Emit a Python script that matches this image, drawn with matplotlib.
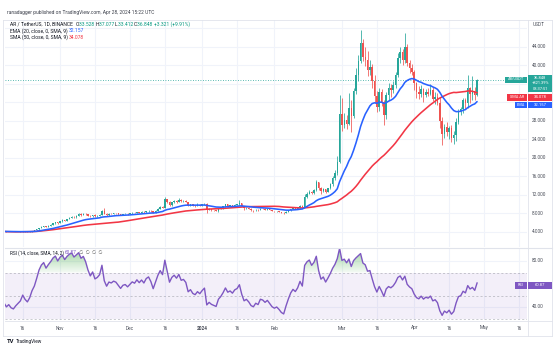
import numpy as np
import pandas as pd
import matplotlib
matplotlib.use("Agg")
import matplotlib.pyplot as plt
from matplotlib.patches import Rectangle
from matplotlib.path import Path
from matplotlib.colors import LinearSegmentedColormap
from matplotlib.transforms import blended_transform_factory

plt.rcParams['font.family'] = ['Roboto', 'DejaVu Sans']

# ---------------- data ----------------
start_date = "2023-10-08"
end_date = "2024-04-28"
first_open = 4.08

close = [
    # Oct
    4.12, 4.02, 4.06, 3.98, 3.95, 4.00, 4.04, 4.08, 4.18, 4.10, 4.05, 4.12, 4.25, 4.35, 4.55, 4.85, 5.10, 5.25, 5.15, 5.35, 5.55, 5.85, 6.05, 5.95,
    # Nov
    6.30, 6.55, 6.45, 6.80, 7.10, 7.30, 7.20, 7.50, 7.85, 7.70, 7.95, 7.80, 7.55, 7.35, 7.65, 7.40, 7.50, 7.70, 8.60, 7.90, 7.60, 7.95, 7.90, 8.05, 8.00, 7.85, 7.70, 7.90, 7.95, 7.85,
    # Dec
    8.00, 8.15, 8.10, 8.30, 8.20, 8.35, 8.25, 8.50, 8.60, 8.45, 8.20, 8.55, 9.00, 9.40, 9.25, 11.10, 10.50, 9.80, 10.40, 10.70, 10.50, 11.00, 10.60, 10.70, 10.50, 9.80, 10.00, 9.70, 9.60, 9.85, 9.70,
    # Jan
    9.95, 10.15, 8.75, 8.95, 8.75, 8.65, 8.55, 9.05, 9.25, 9.55, 9.95, 9.65, 9.75, 9.60, 9.85, 9.95, 10.25, 9.65, 9.15, 9.25, 9.05, 8.75, 8.65, 8.85, 8.75, 9.05, 9.00, 8.85, 8.95, 8.75, 8.55,
    # Feb
    8.45, 8.50, 8.35, 8.15, 8.05, 8.35, 8.65, 8.95, 9.15, 9.05, 9.25, 9.65, 9.45, 11.60, 12.30, 12.70, 12.40, 13.00, 14.70, 13.60, 12.80, 13.20, 12.70, 13.40, 14.30, 15.60, 16.80, 19.20, 29.50,
    # Mar
    27.00, 28.20, 27.40, 30.80, 29.00, 34.50, 37.80, 41.00, 44.80, 41.80, 41.20, 39.00, 39.60, 36.60, 33.40, 30.90, 34.20, 32.00, 29.20, 33.60, 35.20, 34.60, 35.80, 38.00, 41.60, 42.80, 41.20, 44.00, 40.60, 39.40, 38.60,
    # Apr
    36.10, 34.30, 33.70, 34.90, 33.50, 34.30, 33.90, 34.70, 32.70, 33.10, 31.90, 28.00, 25.20, 26.60, 25.60, 26.40, 24.20, 25.00, 27.80, 30.20, 30.60, 32.40, 31.80, 35.00, 33.80, 34.50, 33.527, 36.848,
]

high = [
    4.18, 4.15, 4.10, 4.09, 4.01, 4.04, 4.07, 4.12, 4.26, 4.21, 4.14, 4.16, 4.30, 4.40, 4.62, 4.95, 5.25, 5.36, 5.38, 5.45, 5.64, 5.95, 6.20, 6.15,
    6.40, 6.72, 6.64, 6.88, 7.25, 7.42, 7.45, 7.62, 8.10, 8.00, 8.12, 8.05, 7.90, 7.62, 7.75, 7.80, 7.60, 7.78, 8.85, 9.20, 8.05, 8.05, 8.08, 8.20, 8.12, 8.08, 7.92, 7.98, 8.06, 8.00,
    8.10, 8.22, 8.25, 8.42, 8.40, 8.48, 8.45, 8.60, 8.72, 8.66, 8.50, 8.64, 9.10, 9.55, 9.55, 11.50, 11.20, 10.60, 10.55, 10.90, 10.85, 11.35, 11.10, 10.85, 10.80, 10.55, 10.15, 10.10, 9.85, 10.30, 9.95,
    10.05, 10.35, 10.25, 9.10, 9.00, 8.85, 8.75, 9.15, 9.45, 9.70, 10.10, 10.05, 9.85, 9.82, 9.95, 10.10, 10.80, 10.35, 9.70, 9.35, 9.30, 9.10, 8.85, 8.95, 8.92, 9.15, 9.12, 9.08, 9.05, 9.05, 8.85,
    8.60, 8.62, 8.55, 8.40, 8.25, 8.45, 8.75, 9.05, 9.35, 9.22, 9.38, 9.80, 9.75, 12.10, 12.70, 13.10, 12.90, 13.30, 15.30, 14.90, 13.70, 13.60, 13.35, 13.60, 14.60, 16.00, 17.40, 20.40, 33.60,
    33.00, 29.80, 29.20, 34.00, 32.60, 35.20, 39.40, 42.20, 47.60, 45.60, 44.00, 43.00, 41.20, 40.20, 37.80, 34.40, 35.00, 34.80, 32.40, 34.20, 36.20, 36.00, 36.60, 38.60, 42.60, 44.00, 43.60, 46.90, 44.60, 41.20, 40.20,
    39.00, 36.30, 35.50, 35.70, 35.10, 34.90, 35.10, 35.90, 35.30, 34.20, 34.00, 33.20, 28.80, 27.40, 27.80, 26.80, 27.00, 25.80, 28.60, 30.60, 31.00, 32.90, 33.00, 37.80, 35.40, 37.60, 35.40, 37.077,
]

low = [
    4.04, 3.97, 3.98, 3.92, 3.89, 3.93, 3.98, 4.01, 4.05, 4.05, 4.00, 4.01, 4.10, 4.21, 4.31, 4.50, 4.78, 5.02, 5.05, 5.10, 5.30, 5.50, 5.78, 5.82,
    5.88, 6.22, 6.30, 6.40, 6.72, 7.00, 7.05, 7.12, 7.40, 7.55, 7.62, 7.70, 7.42, 7.20, 7.28, 7.30, 7.30, 7.44, 7.65, 7.80, 7.40, 7.52, 7.80, 7.85, 7.92, 7.75, 7.58, 7.62, 7.82, 7.76,
    7.80, 7.95, 8.02, 8.04, 8.08, 8.14, 8.15, 8.20, 8.42, 8.36, 8.02, 8.15, 8.45, 8.92, 9.10, 9.20, 10.30, 9.55, 9.70, 10.30, 10.35, 10.42, 10.45, 10.50, 10.38, 9.60, 9.70, 9.58, 9.42, 9.55, 9.60,
    9.60, 9.90, 8.10, 8.65, 8.55, 8.55, 8.45, 8.40, 8.90, 9.00, 9.48, 9.45, 9.55, 9.50, 9.55, 9.75, 9.90, 9.55, 8.85, 9.05, 8.98, 8.60, 8.40, 8.58, 8.62, 8.70, 8.92, 8.78, 8.75, 8.68, 8.45,
    8.30, 8.38, 8.28, 8.05, 7.90, 8.00, 8.28, 8.58, 8.90, 8.95, 9.00, 9.18, 9.25, 9.40, 11.40, 12.10, 12.10, 12.30, 12.90, 13.00, 12.30, 12.60, 12.40, 12.60, 13.30, 14.00, 15.20, 16.30, 19.00,
    25.80, 26.40, 26.20, 27.00, 25.60, 28.60, 33.80, 36.60, 40.40, 41.00, 39.80, 37.60, 38.00, 35.20, 31.80, 30.00, 30.20, 31.20, 27.00, 28.40, 32.60, 33.20, 34.00, 35.20, 37.40, 40.60, 40.00, 40.60, 39.80, 38.40, 37.80,
    34.70, 32.90, 32.70, 33.10, 32.10, 33.10, 33.30, 33.50, 32.20, 31.60, 31.40, 26.40, 22.80, 24.20, 24.80, 24.00, 23.40, 22.90, 23.60, 27.40, 29.20, 29.80, 30.60, 30.80, 31.80, 32.60, 32.40, 33.412,
]

ema_len = 20
sma_len = 50
rsi_len = 14
rsi_seed_gain = 0.040
rsi_seed_loss = 0.056

price_tick_values = [4, 8, 12, 16, 20, 24, 28, 40, 44]
price_grid_values = [4, 8, 12, 16, 20, 24, 28, 32, 36, 40, 44, 48]
rsi_tick_values = [80, 40]
time_tick_dates = ["2023-10-16", "2023-11-01", "2023-11-16", "2023-12-01", "2023-12-16",
                   "2024-01-01", "2024-01-16", "2024-02-01", "2024-03-01", "2024-03-16",
                   "2024-04-01", "2024-04-16", "2024-05-01", "2024-05-16"]
time_tick_labels = ["16", "Nov", "16", "Dec", "16", "2024", "16", "Feb", "Mar", "16",
                    "Apr", "16", "May", "16"]

header_title = "ranadagger published on TradingView.com, Apr 28, 2024 15:22 UTC"
symbol_text = "AR / TetherUS, 1D, BINANCE"
ohlc_text = [("O", "33.528"), ("H", "37.077"), ("L", "33.412"), ("C", "36.848")]
change_text = "+3.321 (+9.91%)"

# ---------------- derived series ----------------
dates = pd.date_range(start_date, end_date, freq="D")
base = pd.Timestamp("2023-10-01")
xd = np.array((dates - base).days, dtype=float)
c = np.array(close, dtype=float)
h = np.array(high, dtype=float)
l = np.array(low, dtype=float)
o = np.concatenate([[first_open], c[:-1]])

ema = pd.Series(c).ewm(span=ema_len, adjust=False).mean().values
sma = pd.Series(c).rolling(sma_len, min_periods=1).mean().values

rsi = np.zeros(len(c))
ag, al = rsi_seed_gain, rsi_seed_loss
prev = first_open
for i, v in enumerate(c):
    d = v - prev
    prev = v
    ag = (ag * (rsi_len - 1) + max(d, 0)) / rsi_len
    al = (al * (rsi_len - 1) + max(-d, 0)) / rsi_len
    rsi[i] = 100 - 100 / (1 + ag / al)

# ---------------- layout ----------------
W, H = 554, 349
fig = plt.figure(figsize=(W / 100, H / 100), dpi=100)
fig.patch.set_facecolor("white")

def fx(x):
    return x / W

def fy(y):
    return 1 - y / H

X0, X1 = 5, 527
PY0, PY1 = 20, 247
RY0, RY1 = 248, 320

def x_of_day(px):
    return 31 + (px - 60) / 2.33

xlim = (x_of_day(X0), x_of_day(X1))

def p_of_y(py):
    return (250.5 - py) / 4.63

def r_of_y(py):
    return 80 - (py - 261) / 1.15

GREEN = "#26a69a"
RED = "#ef5350"
GRID = "#f0f3fa"
TXT = "#131722"
AXTXT = "#4a4e59"

ax = fig.add_axes([fx(X0), fy(PY1), (X1 - X0) / W, (PY1 - PY0) / H])
ax.set_xlim(*xlim)
ax.set_ylim(p_of_y(PY1), p_of_y(PY0))
axr = fig.add_axes([fx(X0), fy(RY1), (X1 - X0) / W, (RY1 - RY0) / H])
axr.set_xlim(*xlim)
axr.set_ylim(r_of_y(RY1), r_of_y(RY0))

tick_x = np.array((pd.to_datetime(time_tick_dates) - base).days, dtype=float)

for a in (ax, axr):
    for s in a.spines.values():
        s.set_visible(False)
    a.set_xticks([])
    a.set_yticks([])
    for t in tick_x:
        a.axvline(t, color=GRID, lw=0.8, zorder=0)

for v in price_grid_values:
    ax.axhline(v, color=GRID, lw=0.8, zorder=0)
for v in rsi_tick_values:
    axr.axhline(v, color=GRID, lw=0.8, zorder=0)

# candles
cols = np.where(c >= o, GREEN, RED)
ax.vlines(xd, l, h, colors=cols, lw=0.55, zorder=2)
ax.bar(xd, np.maximum(np.abs(c - o), 0.06), bottom=np.minimum(o, c), width=0.62,
       color=cols, linewidth=0, zorder=3)

ax.plot(xd, sma, color="#f23645", lw=1.15, zorder=4, solid_capstyle="round")
ax.plot(xd, ema, color="#2962ff", lw=1.15, zorder=5, solid_capstyle="round")
ax.axhline(c[-1], color=GREEN, lw=0.6, ls=(0, (1, 2)), zorder=1)

# RSI pane
axr.axhspan(30, 70, color="#7e57c2", alpha=0.09, lw=0, zorder=0)
for v in (70, 50, 30):
    axr.axhline(v, color="#9598a1", lw=0.5, ls=(0, (3, 3)), alpha=0.7, zorder=1)
ob = axr.fill_between(xd, 70, rsi, where=rsi > 70, interpolate=True, facecolor="none", lw=0)
paths = ob.get_paths()
if paths:
    grad = np.linspace(0, 1, 256).reshape(-1, 1)
    cmap = LinearSegmentedColormap.from_list("g", [(0.30, 0.69, 0.31, 0.05), (0.30, 0.69, 0.31, 0.75)])
    im = axr.imshow(grad, extent=[xlim[0], xlim[1], 70, 100], origin="lower", aspect="auto",
                    cmap=cmap, zorder=1, interpolation="bilinear")
    im.set_clip_path(Path.make_compound_path(*paths), transform=axr.transData)
axr.set_xlim(*xlim)
axr.set_ylim(r_of_y(RY1), r_of_y(RY0))
axr.plot(xd, rsi, color="#7e57c2", lw=1.0, zorder=3)

# frame lines
LINE = "#e0e3eb"
fig.add_artist(plt.Line2D([fx(3), fx(552)], [fy(19.5), fy(19.5)], color=LINE, lw=0.6))
fig.add_artist(plt.Line2D([fx(3), fx(552)], [fy(336), fy(336)], color=LINE, lw=0.6))
fig.add_artist(plt.Line2D([fx(3), fx(3)], [fy(19.5), fy(336)], color=LINE, lw=0.6))
fig.add_artist(plt.Line2D([fx(552), fx(552)], [fy(19.5), fy(336)], color=LINE, lw=0.6))
fig.add_artist(plt.Line2D([fx(X0), fx(552)], [fy(247.5), fy(247.5)], color=LINE, lw=0.8))
fig.add_artist(plt.Line2D([fx(X0), fx(552)], [fy(320.5), fy(320.5)], color=LINE, lw=0.6))
fig.add_artist(plt.Line2D([fx(527.5), fx(527.5)], [fy(19.5), fy(336)], color=LINE, lw=0.6))

# price scale labels
FS_AX = 3.4
for v in price_tick_values:
    fig.text(fx(532), fy(250.5 - 4.63 * v), f"{v:.3f}", fontsize=FS_AX, color=AXTXT,
             ha="left", va="center")
fig.text(fx(533), fy(25), "USDT", fontsize=FS_AX, color=AXTXT, ha="left", va="center")
for v in rsi_tick_values:
    fig.text(fx(532), fy(261 - (v - 80) * 1.15), f"{v:.2f}", fontsize=FS_AX, color=AXTXT,
             ha="left", va="center")

# time labels
trans = blended_transform_factory(axr.transData, fig.transFigure)
for t, lab in zip(tick_x, time_tick_labels):
    if xlim[0] <= t <= xlim[1]:
        fig.text(t, fy(328), lab, transform=trans, fontsize=FS_AX, color=AXTXT,
                 ha="center", va="center", fontweight="bold" if lab == "2024" else "normal")

# header texts
renderer = fig.canvas.get_renderer()

def seq_text(x_px, y_px, parts, size):
    x = x_px
    for s, col in parts:
        t = fig.text(fx(x), fy(y_px), s, color=col, fontsize=size, ha="left", va="center")
        x += t.get_window_extent(renderer).width

fig.text(fx(7), fy(12.5), header_title, fontsize=3.5, color="#3b3f4a", ha="left", va="center")
parts = [(symbol_text + "  ", TXT)]
for k, v in ohlc_text:
    parts.append((k, TXT))
    parts.append((v + " ", "#089981"))
parts.append((change_text, "#089981"))
seq_text(10, 24.5, parts, 3.6)
seq_text(10, 31, [("EMA (20, close, 0, SMA, 9) ", TXT), (f"{ema[-1]:.3f}", "#2962ff")], 3.6)
seq_text(10, 37.5, [("SMA (50, close, 0, SMA, 9) ", TXT), (f"{sma[-1]:.3f}", "#f23645")], 3.6)
seq_text(10, 253, [("RSI (14, close, SMA, 14, 2) ", TXT), (f"{rsi[-1]:.2f}", "#7e57c2"),
                   ("  \u2205  \u2205  \u2205  \u2205", "#555555")], 3.4)

# price scale badges
def badge(x0, y0, x1, y1, color, lines, size=3.0):
    fig.patches.append(Rectangle((fx(x0), fy(y1)), (x1 - x0) / W, (y1 - y0) / H,
                                 transform=fig.transFigure, facecolor=color, edgecolor="none",
                                 zorder=10))
    n = len(lines)
    for i, s in enumerate(lines):
        yy = y0 + (y1 - y0) * (i + 0.5) / n
        fig.text(fx((x0 + x1) / 2), fy(yy), s, fontsize=size, color="white", ha="center",
                 va="center", zorder=11)

badge(528, 75, 552, 92, GREEN, [f"{c[-1]:.3f}", "+821.39%", "08:37:51"], 2.9)
badge(505, 76.5, 527, 82.5, GREEN, ["AR/USDT"], 2.8)
badge(528, 94, 552, 101, "#f23645", [f"{sma[-1]:.3f}"], 3.0)
badge(507, 94, 527, 101, "#f23645", ["SMA AR"], 2.8)
badge(528, 101.5, 552, 108, "#2962ff", [f"{ema[-1]:.3f}"], 3.0)
badge(515, 101.5, 527, 108, "#2962ff", ["EMA"], 2.8)
badge(528, 281.5, 552, 288.5, "#7e57c2", [f"{rsi[-1]:.2f}"], 3.0)
badge(515, 281.5, 527, 288.5, "#7e57c2", ["RSI"], 2.8)

# footer logo
fig.text(fx(7), fy(341.5), "TV", fontsize=4.2, fontweight="bold", color="#131722",
         ha="left", va="center")
fig.text(fx(16), fy(341.5), "TradingView", fontsize=3.4, color="#131722", ha="left", va="center")

fig.savefig("out.png", dpi=100)
